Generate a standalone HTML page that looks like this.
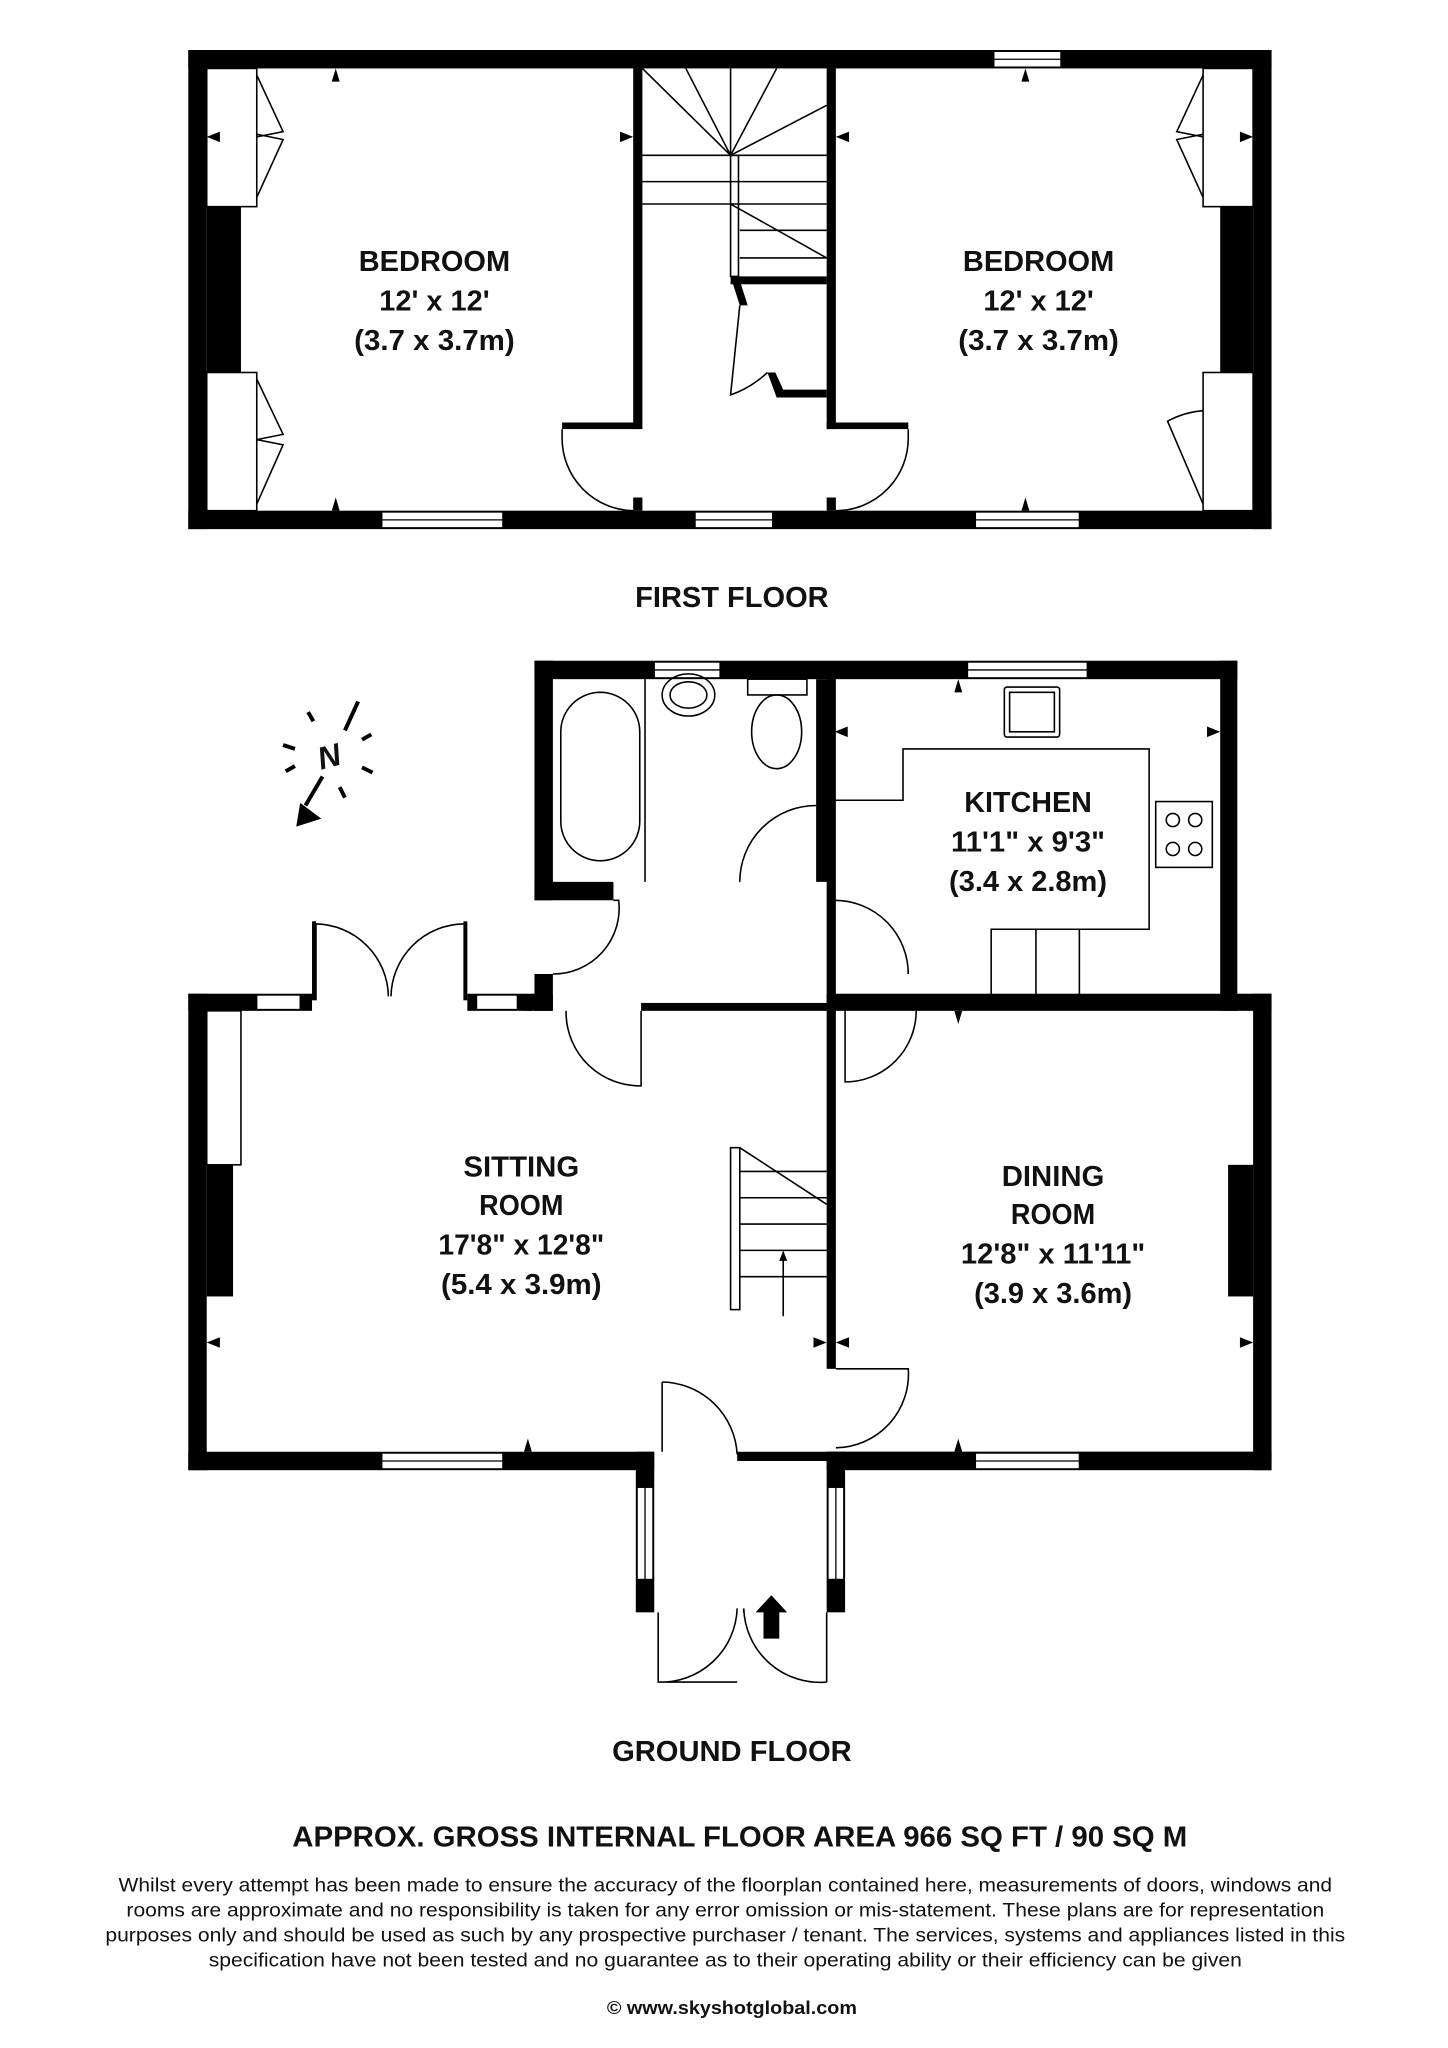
<!DOCTYPE html>
<html><head><meta charset="utf-8"><style>html,body{margin:0;padding:0;background:#fff}svg{display:block}text{font-family:"Liberation Sans",sans-serif;font-weight:bold;text-anchor:middle;fill:#111}</style></head>
<body>
<svg width="1448" height="2048" viewBox="0 0 1100 1556" xmlns="http://www.w3.org/2000/svg">
<rect width="1100" height="1556" fill="#fff"/>
<g fill="#000">
<rect x="143" y="38" width="823" height="14"/>
<rect x="143" y="388" width="823" height="14"/>
<rect x="143" y="38" width="14" height="364"/>
<rect x="952" y="38" width="14" height="364"/>
<rect x="481" y="52" width="7" height="274"/>
<rect x="628" y="52" width="7" height="274"/>
<rect x="427" y="321" width="60" height="5"/>
<rect x="628" y="321" width="62" height="5"/>
<rect x="481" y="378" width="7" height="10"/>
<rect x="628" y="378" width="7" height="10"/>
<rect x="157" y="157" width="26" height="126"/>
<rect x="927" y="157" width="25" height="126"/>
<rect x="555" y="210" width="73" height="6"/>
<polygon points="555,210 561,210 568,232 562,232"/>
<polygon points="583,283 589,283 595,296 628,296 628,302 590,302"/>
<rect x="406" y="502" width="534" height="14"/>
<rect x="406" y="502" width="14" height="182"/>
<rect x="406" y="670" width="60" height="14"/>
<rect x="620" y="516" width="14" height="154"/>
<rect x="628" y="516" width="7" height="252"/>
<rect x="927" y="502" width="13" height="266"/>
<rect x="143" y="755" width="94" height="13"/>
<rect x="355" y="755" width="65" height="13"/>
<rect x="406" y="740" width="14" height="28"/>
<rect x="487" y="762" width="141" height="6"/>
<rect x="628" y="755" width="338" height="13"/>
<rect x="143" y="755" width="14" height="362"/>
<rect x="952" y="755" width="14" height="362"/>
<rect x="628" y="762" width="7" height="278"/>
<rect x="143" y="1103" width="354" height="14"/>
<rect x="560" y="1103" width="406" height="7"/>
<rect x="628" y="1103" width="338" height="14"/>
<rect x="483" y="1103" width="14" height="122"/>
<rect x="628" y="1103" width="14" height="122"/>
<rect x="157" y="885" width="20" height="100"/>
<rect x="933" y="885" width="19" height="100"/>
<rect x="237" y="700" width="3" height="60"/>
<rect x="352" y="700" width="3" height="60"/>
</g>
<g fill="#fff" stroke="#000" stroke-width="1">
<rect x="290" y="389" width="92" height="12"/><rect x="528" y="389" width="59" height="12"/><rect x="741" y="389" width="79" height="12"/><rect x="755" y="39" width="51" height="12"/>
<rect x="497" y="503" width="50" height="12"/><rect x="735" y="503" width="91" height="12"/>
<rect x="195" y="756" width="33" height="11"/><rect x="362" y="756" width="31" height="11"/>
<rect x="290" y="1104" width="92" height="12"/><rect x="741" y="1104" width="79" height="12"/>
<rect x="484" y="1130" width="12" height="70"/><rect x="629" y="1130" width="12" height="70"/>
</g>
<g stroke="#000" stroke-width="1">
<line x1="290" y1="395" x2="382" y2="395"/><line x1="528" y1="395" x2="587" y2="395"/><line x1="741" y1="395" x2="820" y2="395"/><line x1="755" y1="45" x2="806" y2="45"/>
<line x1="497" y1="509" x2="547" y2="509"/><line x1="735" y1="509" x2="826" y2="509"/>
<line x1="290" y1="1110" x2="382" y2="1110"/><line x1="741" y1="1110" x2="820" y2="1110"/>
<line x1="490" y1="1130" x2="490" y2="1200"/><line x1="635" y1="1130" x2="635" y2="1200"/>
</g>
<g fill="none" stroke="#000" stroke-width="1.2">
<rect x="157" y="52" width="38" height="105"/><rect x="157" y="283" width="38" height="105"/>
<rect x="914" y="52" width="38" height="105"/><rect x="914" y="283" width="38" height="105"/>
<path d="M195,57 L215,100 Q200,103 195,104 M195,150 L215,106 Q200,103 195,102"/>
<path d="M195,288 L215,330 Q200,333 195,334 M195,383 L215,338 Q200,335 195,334"/>
<path d="M914,57 L894,100 Q909,103 914,104 M914,150 L894,106 Q909,103 914,102"/>
<path d="M914,383 L887,320 Q900,313 914,312"/>
<path d="M427,326 L427,333 A55,55 0 0 0 481,388"/>
<path d="M690,326 L690,333 A55,55 0 0 1 635,388"/>
<path d="M488,52 L555,118 M521,52 L555,118 M555,52 L555,118 M590,52 L555,118 M628,80 L555,118 M488,118 L555,118 L628,118 M488,138 L628,138 M488,155 L628,155 M555,155 L628,196 M562,175 L628,175 M562,196 L628,196"/>
<rect x="555" y="118" width="6" height="92"/>
<path d="M562,232 L555,300 Q570,295 583,283"/>
<rect x="426" y="526" width="60" height="128" rx="30"/>
<line x1="490" y1="516" x2="490" y2="670"/>
<ellipse cx="523" cy="528" rx="20" ry="16"/><ellipse cx="523" cy="528" rx="14" ry="10"/>
<rect x="568" y="516" width="45" height="12"/><ellipse cx="590" cy="556" rx="19" ry="28"/>
<path d="M620,612 A58,58 0 0 0 562,670"/>
<path d="M420,740 A50,50 0 0 0 470,684 L466,684"/>
<path d="M634,608 L686,608 L686,569 L873,569 L873,706 L753,706 L753,762 M787,706 L787,762 M820,706 L820,762"/>
<rect x="763" y="522" width="42" height="38" rx="2"/><rect x="767" y="526" width="34" height="30"/>
<rect x="878" y="609" width="43" height="50"/>
<circle cx="891" cy="623" r="5"/><circle cx="908" cy="623" r="5"/><circle cx="891" cy="645" r="5"/><circle cx="908" cy="645" r="5"/>
<path d="M634,684 A56,56 0 0 1 690,740"/>
<path d="M642,768 L642,822 A54,54 0 0 0 696,768"/>
<path d="M240,702 L240,760 M240,702 A56,56 0 0 1 295,757 M352,702 A56,56 0 0 0 297,757"/>
<path d="M430,768 L430,770 A56,56 0 0 0 487,825 L487,768"/>
<rect x="157" y="768" width="26" height="117"/>
<path d="M555,872 L555,995 L562,995 L562,872 Z M562,872 L628,915 M562,890 L628,890 M562,910 L628,910 M562,930 L628,930 M562,950 L628,950 M562,970 L628,970"/>
<line x1="595" y1="1000" x2="595" y2="955"/>
<path d="M635,1040 L690,1040 A56,56 0 0 1 635,1100"/>
<path d="M503,1050 L503,1103 M503,1050 A58,58 0 0 1 560,1105"/>
<path d="M500,1225 L500,1278 L560,1278 M500,1278 A58,58 0 0 0 560,1222 M628,1278 L628,1225 M628,1278 A58,58 0 0 1 565,1222 M565,1222 L565,1225"/>
</g>
<g fill="#000">
<polygon points="252,62 258,62 255,52"/><polygon points="252,388 258,388 255,378"/>
<polygon points="157,104 167,100 167,108"/><polygon points="481,104 471,100 471,108"/>
<polygon points="635,104 645,100 645,108"/><polygon points="952,104 942,100 942,108"/>
<polygon points="776,62 782,62 779,52"/><polygon points="776,388 782,388 779,378"/>
<polygon points="725,526 731,526 728,516"/><polygon points="634,556 644,552 644,560"/><polygon points="927,556 917,552 917,560"/>
<polygon points="725,765 731,765 728,755"/><polygon points="725,768 731,768 728,778"/>
<polygon points="398,768 404,768 401,758"/>
<polygon points="157,1020 167,1016 167,1024"/><polygon points="628,1020 618,1016 618,1024"/><polygon points="635,1020 645,1016 645,1024"/><polygon points="952,1020 942,1016 942,1024"/>
<polygon points="398,1103 404,1103 401,1093"/><polygon points="725,1103 731,1103 728,1093"/>
<polygon points="592,958 598,958 595,950"/>
<polygon points="580,1245 592,1245 592,1225 598,1225 586,1212 574,1225 580,1225"/>
<polygon points="225,628 228,610 244,622"/>
</g>
<g stroke="#000" stroke-width="3" fill="none">
<line x1="272" y1="533" x2="262" y2="555"/><line x1="245" y1="590" x2="232" y2="612"/>
<line x1="234" y1="541" x2="238" y2="548"/><line x1="215" y1="566" x2="224" y2="569"/><line x1="217" y1="586" x2="224" y2="582"/>
<line x1="258" y1="598" x2="262" y2="606"/><line x1="275" y1="583" x2="283" y2="587"/><line x1="275" y1="562" x2="282" y2="558"/>
</g>
<text x="250" y="583" font-size="24" font-style="italic" transform="rotate(-15 250 575)">N</text>
<g font-size="22">
<text x="330" y="206" textLength="115" lengthAdjust="spacingAndGlyphs">BEDROOM</text>
<text x="330" y="236">12' x 12'</text>
<text x="330" y="266" textLength="122" lengthAdjust="spacingAndGlyphs">(3.7 x 3.7m)</text>
<text x="789" y="206" textLength="115" lengthAdjust="spacingAndGlyphs">BEDROOM</text>
<text x="789" y="236">12' x 12'</text>
<text x="789" y="266" textLength="122" lengthAdjust="spacingAndGlyphs">(3.7 x 3.7m)</text>
<text x="556" y="461" textLength="147" lengthAdjust="spacingAndGlyphs">FIRST FLOOR</text>
<text x="781" y="617" textLength="97" lengthAdjust="spacingAndGlyphs">KITCHEN</text>
<text x="781" y="647" textLength="117" lengthAdjust="spacingAndGlyphs">11'1" x 9'3"</text>
<text x="781" y="677" textLength="120" lengthAdjust="spacingAndGlyphs">(3.4 x 2.8m)</text>
<text x="396" y="894" textLength="88" lengthAdjust="spacingAndGlyphs">SITTING</text>
<text x="396" y="923" textLength="64" lengthAdjust="spacingAndGlyphs">ROOM</text>
<text x="396" y="953" textLength="126" lengthAdjust="spacingAndGlyphs">17'8" x 12'8"</text>
<text x="396" y="983" textLength="122" lengthAdjust="spacingAndGlyphs">(5.4 x 3.9m)</text>
<text x="800" y="901" textLength="78" lengthAdjust="spacingAndGlyphs">DINING</text>
<text x="800" y="930" textLength="64" lengthAdjust="spacingAndGlyphs">ROOM</text>
<text x="800" y="960" textLength="140" lengthAdjust="spacingAndGlyphs">12'8" x 11'11"</text>
<text x="800" y="990" textLength="120" lengthAdjust="spacingAndGlyphs">(3.9 x 3.6m)</text>
<text x="556" y="1338" textLength="182" lengthAdjust="spacingAndGlyphs">GROUND FLOOR</text>
<text x="562" y="1403" textLength="680" lengthAdjust="spacingAndGlyphs">APPROX. GROSS INTERNAL FLOOR AREA 966 SQ FT / 90 SQ M</text>
</g>
<g font-size="15">
<text x="551" y="1437" textLength="922" lengthAdjust="spacingAndGlyphs" style="font-weight:normal">Whilst every attempt has been made to ensure the accuracy of the floorplan contained here, measurements of doors, windows and</text>
<text x="551" y="1456" textLength="910" lengthAdjust="spacingAndGlyphs" style="font-weight:normal">rooms are approximate and no responsibility is taken for any error omission or mis-statement. These plans are for representation</text>
<text x="551" y="1475" textLength="942" lengthAdjust="spacingAndGlyphs" style="font-weight:normal">purposes only and should  be used as such by any prospective purchaser / tenant. The services, systems and appliances listed in this</text>
<text x="551" y="1494" textLength="785" lengthAdjust="spacingAndGlyphs" style="font-weight:normal">specification have not been tested and no guarantee as to their operating ability or their efficiency can be given</text>
</g>
<text x="556" y="1530" font-size="14" textLength="190" lengthAdjust="spacingAndGlyphs">© www.skyshotglobal.com</text>
</svg>
</body></html>
